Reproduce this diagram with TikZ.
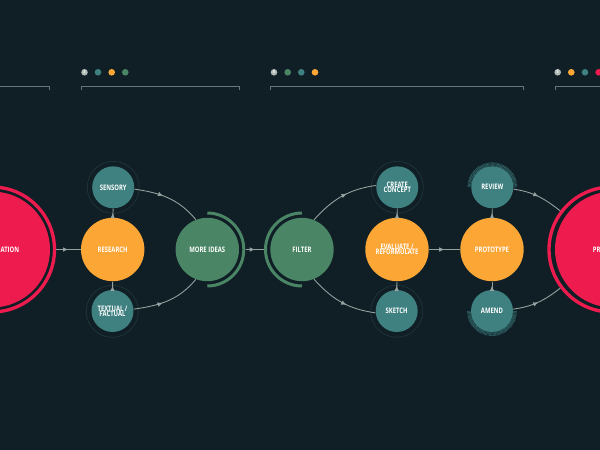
\documentclass[tikz,border=0pt]{standalone}
\usepackage{fontspec}
\setmainfont{Open Sans}[FakeStretch=0.78]
\usetikzlibrary{arrows.meta,decorations.markings}
\definecolor{bgdark}{HTML}{101E25}
\definecolor{tealc}{HTML}{3F8080}
\definecolor{greenc}{HTML}{4A8565}
\definecolor{orangec}{HTML}{FCA636}
\definecolor{redc}{HTML}{EE1C4E}
\definecolor{linegray}{HTML}{95A2A0}
\definecolor{bracketgray}{HTML}{66777A}
\definecolor{ringdim}{HTML}{20353B}
\definecolor{hatchc}{HTML}{2F6366}
\definecolor{numdot}{HTML}{AEB9B5}
\newcommand{\labelfont}{\fontsize{4.3}{3}\selectfont\bfseries\setlength{\lineskiplimit}{-10pt}}
\begin{document}
\begin{tikzpicture}[x=0.02cm,y=0.02cm]
	\tikzset{
		big/.style = {shape=circle, fill=redc, minimum size=2.32cm, inner sep=0pt},
		bigring/.style = {shape=circle, draw=redc, line width=1.9pt, minimum size=2.5cm, inner sep=0pt},
		main/.style = {shape=circle, minimum size=1.268cm, inner sep=0pt, text=white, font=\labelfont, align=center},
		small/.style = {shape=circle, fill=tealc, minimum size=0.84cm, inner sep=0pt, text=white, font=\labelfont, align=center},
		halo/.style = {shape=circle, draw=ringdim, line width=0.4pt, minimum size=1.04cm, inner sep=0pt},
		word/.style = {text=white, font=\labelfont, inner sep=0pt},
		dot/.style = {shape=circle, minimum size=0.132cm, inner sep=0pt},
		numdotstyle/.style = {dot, fill=numdot, text=white, font=\fontsize{2.6}{3}\selectfont\bfseries},
		bracket/.style = {draw=bracketgray, line width=0.55pt},
		halfring/.style = {draw=greenc, line width=1.7pt},
		hatch/.style = {draw=hatchc, line width=2.3pt, dash pattern=on 0.34pt off 0.36pt},
		flow/.style = {draw=linegray, line width=0.5pt, postaction={decorate}, decoration={markings, mark=at position #1 with {\arrow[linegray]{Latex[length=3pt,width=2.6pt]}}}},
		flow/.default = 0.5
	}

	\useasboundingbox (0,0) rectangle (600,-450);
	\clip (0,0) rectangle (600,-450);
	\fill[bgdark] (0,0) rectangle (600,-450);

	% top brackets
	\coordinate (B_1a) at (-5,-86);
	\coordinate (B_1b) at (49.5,-86);
	\coordinate (B_2a) at (81,-86);
	\coordinate (B_2b) at (239,-86);
	\coordinate (B_3a) at (270.5,-86);
	\coordinate (B_3b) at (523.5,-86);
	\coordinate (B_4a) at (555,-86);
	\coordinate (B_4b) at (605,-86);

	\draw[bracket] (B_1a)--(B_1b)--++(0,-3.5);
	\draw[bracket] (B_2a)++(0,-3.5)--(B_2a)--(B_2b)--++(0,-3.5);
	\draw[bracket] (B_3a)++(0,-3.5)--(B_3a)--(B_3b)--++(0,-3.5);
	\draw[bracket] (B_4a)++(0,-3.5)--(B_4a)--(B_4b);

	% legend dots
	\node[numdotstyle] (D_1) at (84.5,-72.3) {3};
	\node[dot, fill=tealc] (D_2) at (98,-72.3) {};
	\node[dot, fill=orangec] (D_3) at (111.7,-72.3) {};
	\node[dot, fill=greenc] (D_4) at (125.3,-72.3) {};

	\node[numdotstyle] (E_1) at (274,-72.3) {4};
	\node[dot, fill=greenc] (E_2) at (287.7,-72.3) {};
	\node[dot, fill=tealc] (E_3) at (301.3,-72.3) {};
	\node[dot, fill=orangec] (E_4) at (315,-72.3) {};

	\node[numdotstyle] (F_1) at (557.7,-72.3) {5};
	\node[dot, fill=orangec] (F_2) at (571.3,-72.3) {};
	\node[dot, fill=tealc] (F_3) at (585,-72.3) {};
	\node[dot, fill=redc] (F_4) at (598.7,-72.3) {};

	% red ends
	\node[bigring] (left_ring) at (-8,-249.5) {};
	\node[big] (left) at (-8,-249.5) {};
	\node[word, anchor=west] (left_word) at (0.3,-249.5) {ATION};

	\node[bigring] (right_ring) at (611.5,-249.5) {};
	\node[big] (right) at (613,-249.5) {};
	\node[word, anchor=west] (right_word) at (592.5,-249.5) {PR};

	% main circles
	\node[main, fill=orangec] (research) at (112.7,-249.5) {RESEARCH};
	\node[main, fill=greenc] (more) at (207.3,-249.5) {MORE IDEAS};
	\node[main, fill=greenc] (filter) at (302,-249.5) {FILTER};
	\node[main, fill=orangec] (evaluate) at (397,-249.5) {EVALUATE /\\REFORMULATE};
	\node[main, fill=orangec] (prototype) at (492,-249.5) {PROTOTYPE};

	% halos
	\node[halo] (sensory_halo) at (113.2,-187.3) {};
	\node[halo] (textual_halo) at (112.2,-311.3) {};
	\node[halo] (create_halo) at (397.3,-187.3) {};
	\node[halo] (sketch_halo) at (396.7,-311.3) {};
	\draw[hatch] (492.3,-187.3) ++(0:23) arc (0:180:23);
	\draw[hatch] (492,-311) ++(180:23) arc (180:360:23);

	% small circles
	\node[small] (sensory) at (113.2,-187.3) {SENSORY};
	\node[small] (textual) at (112.5,-311) {TEXTUAL /\\FACTUAL};
	\node[small] (create) at (397.3,-187.3) {CREATE\\CONCEPT};
	\node[small] (sketch) at (396.7,-311) {SKETCH};
	\node[small] (review) at (492.3,-187.3) {REVIEW};
	\node[small] (amend) at (492,-311) {AMEND};

	% half rings
	\draw[halfring] (more) ++(90:36.5) arc (90:-90:36.5);
	\draw[halfring] (filter) ++(90:36.5) arc (90:270:36.5);

	\coordinate (more_out) at (246,-249.5);
	\coordinate (filter_in) at (264,-249.5);

	% connectors
	\draw[flow] (left_ring.east)--(research.west);
	\draw[flow] (more_out)--(filter_in);
	\draw[flow] (evaluate.east)--(prototype.west);

	\draw[flow] (research.north)--(sensory.south);
	\draw[flow] (textual.north)--(research.south);
	\draw[flow] (evaluate.north)--(create.south);
	\draw[flow] (sketch.north)--(evaluate.south);
	\draw[flow] (prototype.north)--(review.south);
	\draw[flow] (amend.north)--(prototype.south);

	\draw[flow=0.42] (sensory.-5) to[out=-8,in=130] (more.111);
	\draw[flow=0.42] (textual.5) to[out=8,in=-130] (more.-111);
	\draw[flow=0.58] (filter.68) to[out=48,in=188] (create.175);
	\draw[flow=0.58] (filter.-68) to[out=-48,in=172] (sketch.-175);
	\draw[flow=0.5] (review.-5) to[out=-8,in=142] (right_ring.143);
	\draw[flow=0.5] (amend.5) to[out=8,in=-142] (right_ring.-143);

\end{tikzpicture}
\end{document}
